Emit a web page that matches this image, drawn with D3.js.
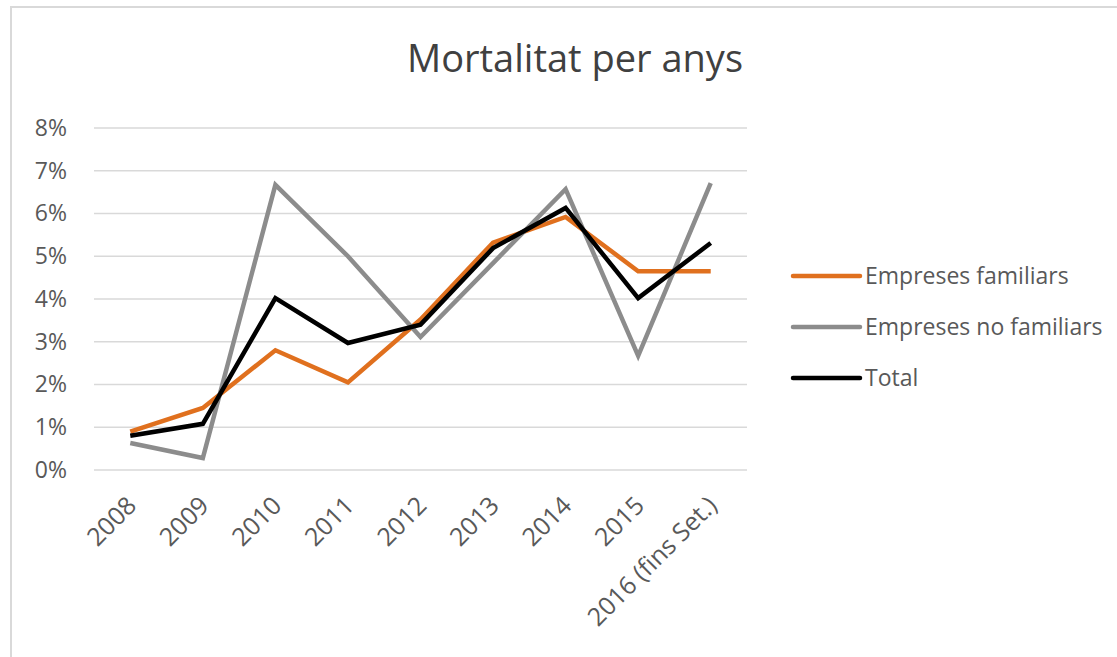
<!DOCTYPE html>
<html>
<head>
<meta charset="utf-8">
<script src="https://cdn.jsdelivr.net/npm/d3@7"></script>
<style>
  html, body { margin: 0; padding: 0; background: #fff; overflow: hidden; }
  svg { display: block; }
  text { font-family: "Open Sans", "Noto Sans", sans-serif; }
</style>
</head>
<body>
<script>
const years = ['2008', '2009', '2010', '2011', '2012', '2013', '2014', '2015', '2016 (fins Set.)'];
const familiars = [0.90, 1.45, 2.80, 2.05, 3.52, 5.32, 5.92, 4.65, 4.65];
const noFamiliars = [0.63, 0.28, 6.67, 5.00, 3.11, 4.84, 6.57, 2.67, 6.71];
const total = [0.80, 1.08, 4.02, 2.97, 3.40, 5.19, 6.13, 4.02, 5.31];
const yTicks = [0, 1, 2, 3, 4, 5, 6, 7, 8];
const seriesNames = ['Empreses familiars', 'Empreses no familiars', 'Total'];

const series = [
  { name: seriesNames[0], values: familiars, color: '#e0701e' },
  { name: seriesNames[1], values: noFamiliars, color: '#8c8c8c' },
  { name: seriesNames[2], values: total, color: '#000000' }
];

const width = 1117;
const height = 657;
const margin = { top: 128, left: 94, right: 370, bottom: 187 };
const innerWidth = width - margin.left - margin.right;
const innerHeight = height - margin.top - margin.bottom;

const svg = d3.select('body')
  .append('svg')
  .attr('width', width)
  .attr('height', height);

// chart border (only top and left edges are visible in the crop)
svg.append('path')
  .attr('d', `M11,${height} L11,7 L${width},7`)
  .attr('fill', 'none')
  .attr('stroke', '#d9d9d9')
  .attr('stroke-width', 2);

svg.append('text')
  .attr('x', 575)
  .attr('y', 72)
  .attr('text-anchor', 'middle')
  .attr('font-size', 38)
  .attr('fill', '#404040')
  .text('Mortalitat per anys');

const plot = svg.append('g')
  .attr('transform', `translate(${margin.left}, ${margin.top})`);

const xScale = d3.scalePoint()
  .domain(years)
  .range([0, innerWidth])
  .padding(0.5);

const yScale = d3.scaleLinear()
  .domain([0, 8])
  .range([innerHeight, 0]);

// gridlines
plot.append('g')
  .selectAll('line')
  .data(yTicks)
  .enter().append('line')
  .attr('x1', 0)
  .attr('x2', innerWidth)
  .attr('y1', d => yScale(d))
  .attr('y2', d => yScale(d))
  .attr('stroke', '#d9d9d9')
  .attr('stroke-width', 1.5);

const yAxis = d3.axisLeft(yScale)
  .tickValues(yTicks)
  .tickFormat(d => d + '%')
  .tickSize(0)
  .tickPadding(27);

plot.append('g')
  .call(yAxis)
  .call(g => g.select('.domain').remove())
  .selectAll('text')
  .attr('font-size', 23)
  .attr('fill', '#595959')
  .attr('font-family', '"Open Sans", sans-serif');

const xAxis = d3.axisBottom(xScale).tickSize(0);

plot.append('g')
  .attr('transform', `translate(0, ${innerHeight})`)
  .call(xAxis)
  .call(g => g.select('.domain').remove())
  .selectAll('text')
  .attr('font-size', 25)
  .attr('fill', '#595959')
  .attr('font-family', '"Open Sans", sans-serif')
  .attr('text-anchor', 'end')
  .attr('dy', 0)
  .attr('transform', 'translate(5, 35) rotate(-45)');

const line = d3.line()
  .x((d, i) => xScale(years[i]))
  .y(d => yScale(d));

plot.selectAll('.series')
  .data(series)
  .enter().append('path')
  .attr('class', 'series')
  .attr('d', d => line(d.values))
  .attr('fill', 'none')
  .attr('stroke', d => d.color)
  .attr('stroke-width', 4.5)
  .attr('stroke-linejoin', 'miter');

const legend = svg.append('g')
  .attr('transform', 'translate(793, 276)');

const legendItem = legend.selectAll('g')
  .data(series)
  .enter().append('g')
  .attr('transform', (d, i) => `translate(0, ${i * 51})`);

legendItem.append('line')
  .attr('x1', 0)
  .attr('x2', 67)
  .attr('stroke', d => d.color)
  .attr('stroke-width', 4.5)
  .attr('stroke-linecap', 'round');

legendItem.append('text')
  .attr('x', 72)
  .attr('dy', '0.35em')
  .attr('font-size', 23)
  .attr('fill', '#595959')
  .text(d => d.name);
</script>
</body>
</html>
